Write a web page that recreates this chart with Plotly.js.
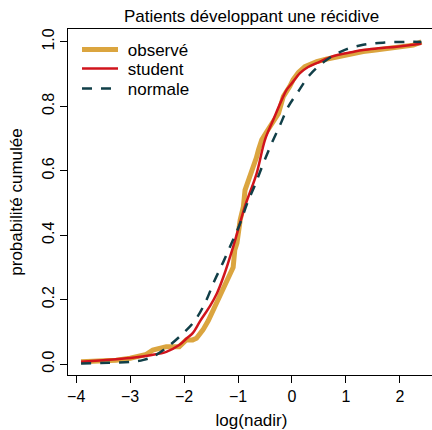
<!DOCTYPE html>
<html>
<head>
<meta charset="utf-8">
<script src="https://cdn.plot.ly/plotly-3.0.1.min.js"></script>
<style>
html,body{margin:0;padding:0;overflow:hidden;background:#fff;width:432px;height:430px;}
#chart{width:436px;height:430px;}
</style>
</head>
<body>
<div id="chart"></div>
<script>
var obsX = [-3.91,-3.6,-3.26,-3.0,-2.83,-2.7,-2.58,-2.45,-2.33,-2.2,-2.09,-1.96,-1.84,-1.77,-1.70,-1.65,-1.55,-1.46,-1.37,-1.28,-1.20,-1.15,-1.09,-1.06,-1.02,-0.96,-0.90,-0.87,-0.80,-0.72,-0.66,-0.62,-0.56,-0.48,-0.41,-0.33,-0.25,-0.16,-0.10,-0.04,0.02,0.12,0.24,0.35,0.46,0.65,0.83,1.0,1.32,1.55,1.78,2.0,2.25,2.40];
var obsY = [0.007,0.009,0.012,0.018,0.023,0.030,0.043,0.048,0.054,0.054,0.054,0.075,0.075,0.080,0.092,0.106,0.135,0.168,0.198,0.23,0.262,0.282,0.30,0.354,0.375,0.447,0.489,0.540,0.572,0.602,0.640,0.665,0.696,0.718,0.737,0.758,0.778,0.830,0.845,0.862,0.882,0.905,0.923,0.932,0.939,0.947,0.954,0.960,0.970,0.975,0.980,0.985,0.990,1.0];
// fitted Student curve
var stX = [-3.91,-3.5,-3.0,-2.6,-2.33,-2.09,-1.95,-1.84,-1.70,-1.52,-1.39,-1.27,-1.09,-0.87,-0.654,-0.50,-0.346,-0.19,-0.10,0.0,0.148,0.30,0.457,0.70,0.86,1.1,1.32,1.6,1.94,2.2,2.40];
var stY = [0.007,0.012,0.019,0.028,0.038,0.059,0.080,0.096,0.134,0.180,0.22,0.271,0.364,0.490,0.592,0.696,0.758,0.820,0.851,0.872,0.903,0.922,0.934,0.952,0.960,0.968,0.975,0.980,0.985,0.990,0.994];
// fitted normal curve
var nX = [-3.91,-3.4,-2.95,-2.75,-2.58,-2.33,-2.02,-1.80,-1.61,-1.43,-1.27,-1.12,-0.96,-0.83,-0.685,-0.53,-0.376,-0.22,-0.068,0.117,0.333,0.64,0.95,1.32,1.72,2.12,2.40];
var nY = [0.002,0.004,0.007,0.013,0.023,0.050,0.095,0.135,0.190,0.261,0.318,0.375,0.437,0.499,0.556,0.623,0.685,0.742,0.799,0.846,0.898,0.944,0.973,0.991,0.998,1.0,1.0];

var seriesNames = ['observé','student','normale'];
var xTicks = [-4,-3,-2,-1,0,1,2];
var xTickText = ['\u22124','\u22123','\u22122','\u22121','0','1','2'];
var yTicks = [0,0.2,0.4,0.6,0.8,1.0];
var yTickText = ['0.0','0.2','0.4','0.6','0.8','1.0'];

var FONT = 'Liberation Sans, Arial, sans-serif';
var PAD = '\u00a0';

var traces = [
  {x: obsX, y: obsY, type:'scatter', mode:'lines', name:PAD+seriesNames[0], legend:'legend',
   line:{color:'#DBA53F', width:5}},
  {x: stX, y: stY, type:'scatter', mode:'lines', name:PAD+seriesNames[1], legend:'legend2',
   line:{color:'#D1141C', width:2.5, shape:'spline'}},
  {x: nX, y: nY, type:'scatter', mode:'lines', name:PAD+seriesNames[2], legend:'legend3',
   line:{color:'#113F48', width:2.5, dash:'10px,9px', shape:'spline'}}
];

function leg(py){
  return {x:(77-68)/367, y:(375-py)/346, xanchor:'left', yanchor:'middle', bgcolor:'rgba(0,0,0,0)',
          borderwidth:0, font:{family:FONT, size:17, color:'#000'}, itemwidth:36, tracegroupgap:0};
}

var layout = {
  width:436, height:430,
  margin:{l:68, r:1, t:29, b:55, pad:0},
  paper_bgcolor:'#fff', plot_bgcolor:'#fff',
  font:{family:FONT, size:17, color:'#000'},
  title:{text:'Patients développant une récidive', font:{family:FONT, size:17, color:'#000'},
         x:0.5, xref:'paper', xanchor:'center', y:1-16/430, yref:'container', yanchor:'middle'},
  xaxis:{range:[-4.152,2.652], tickvals:xTicks, ticktext:xTickText, ticks:'outside', ticklen:7,
         tickcolor:'#000', tickwidth:1, showline:true, mirror:true, linecolor:'#000', linewidth:1,
         showgrid:false, zeroline:false, tickfont:{family:FONT, size:16, color:'#000'},
         title:{text:'log(nadir)', font:{family:FONT, size:17, color:'#000'}, standoff:14}},
  yaxis:{range:[-0.034,1.040], tickvals:yTicks, ticktext:yTickText, ticks:'outside', ticklen:7,
         tickcolor:'#000', tickwidth:1, showline:true, mirror:true, linecolor:'#000', linewidth:1,
         showgrid:false, zeroline:false, tickangle:-90, tickfont:{family:FONT, size:16, color:'#000'},
         title:{text:'probabilité cumulée', font:{family:FONT, size:17, color:'#000'}, standoff:12}},
  showlegend:true,
  legend:leg(50),
  legend2:leg(69),
  legend3:leg(89)
};

Plotly.newPlot('chart', traces, layout, {displayModeBar:false, staticPlot:true});
</script>
</body>
</html>
